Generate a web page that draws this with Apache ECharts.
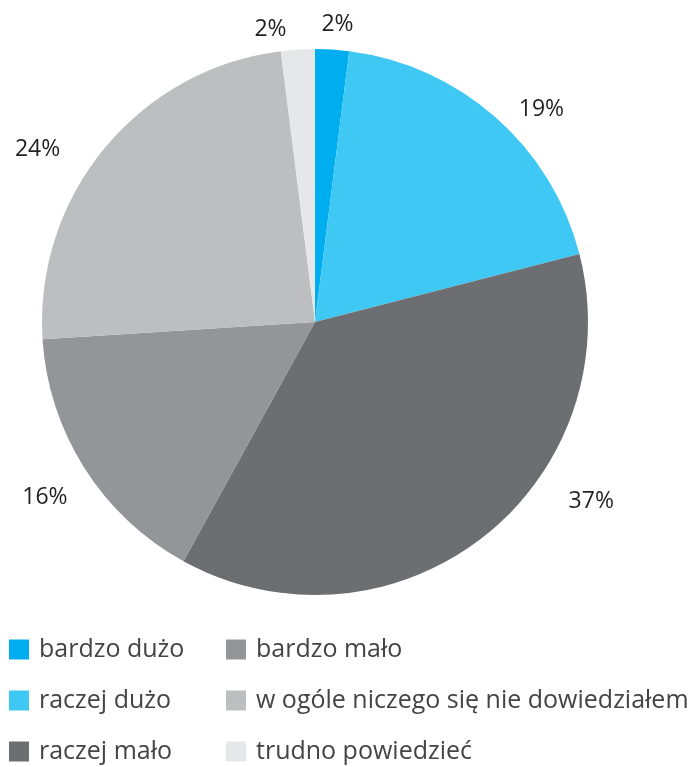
<!DOCTYPE html>
<html>
    <head>
        <meta charset="utf-8">
        <script src="https://cdn.jsdelivr.net/npm/echarts@6/dist/echarts.min.js"></script>
    </head>
    <body>
        <style>
            html, body, #main {
                width: 100%;
                height: 100%;
                margin: 0;
                background: #fff;
            }
        </style>
        <div id="main"></div>
        <script>
            var categories = ['bardzo dużo', 'raczej dużo', 'raczej mało', 'bardzo mało', 'w ogóle niczego się nie dowiedziałem', 'trudno powiedzieć'];
            var values = [2, 19, 37, 16, 24, 2];
            var colors = ['#00aeef', '#40c8f4', '#6d6e71', '#939598', '#bcbec0', '#e6e7e8'];

            var chart = echarts.init(document.getElementById('main'));

            var data = categories.map(function (name, i) {
                return { name: name, value: values[i], itemStyle: { color: colors[i] } };
            });

            var legendText = {
                fontFamily: 'Open Sans',
                fontSize: 25,
                lineHeight: 24,
                color: '#444446',
                padding: [0, 0, 0, 5]
            };

            // nudges so the % labels sit roughly where the original put them
            var labelNudge = [[-22, -5], [0, 7], [64, -52], [10, 18], [-19, 14], [0, 0]];

            chart.setOption({
                animation: false,
                legend: [{
                    data: categories.slice(0, 3),
                    orient: 'vertical',
                    left: 9,
                    top: 637,
                    padding: 0,
                    itemWidth: 20,
                    itemHeight: 20,
                    itemGap: 26,
                    icon: 'rect',
                    textStyle: legendText
                }, {
                    data: categories.slice(3),
                    orient: 'vertical',
                    left: 226,
                    top: 637,
                    padding: 0,
                    itemWidth: 20,
                    itemHeight: 20,
                    itemGap: 26,
                    icon: 'rect',
                    textStyle: legendText
                }],
                series: [{
                    type: 'pie',
                    center: [315, 322],
                    radius: 273,
                    startAngle: 90,
                    clockwise: true,
                    data: data,
                    label: {
                        show: true,
                        position: 'outside',
                        formatter: '{c}%',
                        fontFamily: 'Open Sans',
                        fontSize: 23,
                        color: '#231f20'
                    },
                    labelLine: { show: false, length: 20, length2: 5 },
                    labelLayout: function (params) {
                        var n = labelNudge[params.dataIndex];
                        return { dx: n[0], dy: n[1] };
                    },
                    emphasis: { disabled: true }
                }]
            });
        </script>
    </body>
</html>
